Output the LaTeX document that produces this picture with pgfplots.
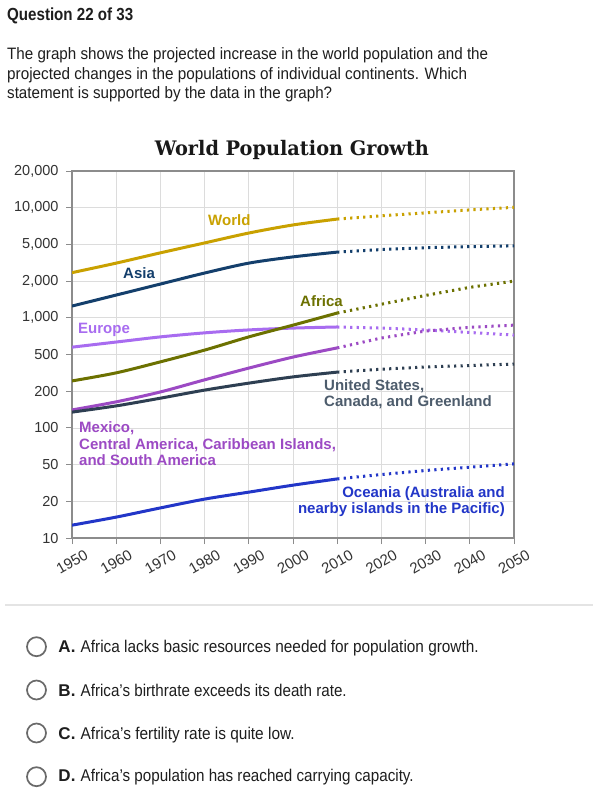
\documentclass[border=0pt]{standalone}
\usepackage{fontspec}
\setmainfont{Liberation Sans}
\newfontfamily\titlefont{DejaVu Serif}
\usepackage{graphicx}
\usepackage{pgfplots}
\pgfplotsset{compat=1.18}

\definecolor{cworld}{HTML}{C9A100}
\definecolor{casia}{HTML}{143F6C}
\definecolor{cafrica}{HTML}{6C7100}
\definecolor{ceurope}{HTML}{A86CF0}
\definecolor{clatam}{HTML}{9C4AC4}
\definecolor{cus}{HTML}{2E3F52}
\definecolor{cocean}{HTML}{2236C8}
\definecolor{cgrid}{HTML}{DCDCDC}
\definecolor{caxis}{HTML}{8C8C8C}
\definecolor{ctick}{HTML}{333333}
\definecolor{ctext}{HTML}{1E1E1E}
\definecolor{ccircle}{HTML}{6A6A6A}
\definecolor{csep}{HTML}{E4E4E4}

\newcommand{\fs}[1]{\fontsize{#1bp}{#1bp}\selectfont}
\newcommand{\fitw}[2]{\resizebox{#1bp}{\height}{#2}}

\pgfplotsset{
  proj/.style={line width=3bp, dash pattern=on 2.2bp off 4.3bp},
  hist/.style={line width=3bp, smooth},
}

\begin{document}
\begin{tikzpicture}[x=1bp,y=1bp]
\useasboundingbox (0,0) rectangle (593,-793);
\fill[white] (0,0) rectangle (593,-793);

% header
\node[anchor=base west, inner sep=0, text=ctext] at (7,-20.7) {\fitw{126}{\fs{17.5}\bfseries Question 22 of 33}};
\node[anchor=base west, inner sep=0, text=ctext] at (7,-59.5) {\fitw{481}{\fs{16.5}The graph shows the projected increase in the world population and the}};
\node[anchor=base west, inner sep=0, text=ctext] at (7,-79.3) {\fitw{460}{\fs{16.5}projected changes in the populations of individual continents. Which}};
\node[anchor=base west, inner sep=0, text=ctext] at (7,-99) {\fitw{325}{\fs{16.5}statement is supported by the data in the graph?}};

% chart title
\node[anchor=base, inner sep=0, text=black!90] at (292,-155) {\fitw{274}{\fs{20}\titlefont\bfseries World Population Growth}};

\begin{axis}[
  at={(72bp,-538bp)}, anchor=south west,
  scale only axis, width=442bp, height=367bp,
  xmin=1950, xmax=2050, ymin=0, ymax=10,
  xtick={1950,1960,...,2050},
  xticklabels={1950,1960,1970,1980,1990,2000,2010,2020,2030,2040,2050},
  ytick={0,1,...,10},
  yticklabels={10,20,50,100,200,500,{1,000},{2,000},{5,000},{10,000},{20,000}},
  xtick pos=left, ytick pos=left,
  tick align=outside, major tick length=6bp,
  tick style={draw=caxis, line width=1bp},
  grid=major, major grid style={draw=cgrid, line width=0.8bp},
  axis line style={draw=caxis, line width=1.6bp},
  ticklabel style={font=\fs{14.5}, text=ctick},
  yticklabel style={xshift=-4bp},
  xticklabel style={font=\fs{15}, anchor=center, yshift=-18bp, rotate=30},
]
% Europe
\addplot[ceurope, hist] coordinates {(1950,5.20)(1960,5.34)(1970,5.48)(1980,5.59)(1990,5.67)(2000,5.72)(2010,5.75)};
\addplot[ceurope, proj] coordinates {(2010,5.75)(2020,5.72)(2030,5.67)(2040,5.60)(2050,5.53)};
% Latin America
\addplot[clatam, hist] coordinates {(1950,3.49)(1960,3.71)(1970,3.98)(1980,4.31)(1990,4.63)(2000,4.93)(2010,5.18)};
\addplot[clatam, proj] coordinates {(2010,5.18)(2020,5.45)(2030,5.64)(2040,5.74)(2050,5.80)};
% US, Canada, Greenland
\addplot[cus, hist] coordinates {(1950,3.43)(1960,3.60)(1970,3.81)(1980,4.03)(1990,4.22)(2000,4.39)(2010,4.52)};
\addplot[cus, proj] coordinates {(2010,4.52)(2020,4.60)(2030,4.66)(2040,4.70)(2050,4.74)};
% Africa
\addplot[cafrica, hist] coordinates {(1950,4.28)(1960,4.50)(1970,4.80)(1980,5.12)(1990,5.48)(2000,5.80)(2010,6.13)};
\addplot[cafrica, proj] coordinates {(2010,6.13)(2020,6.37)(2030,6.61)(2040,6.83)(2050,7.00)};
% Asia
\addplot[casia, hist] coordinates {(1950,6.32)(1960,6.62)(1970,6.92)(1980,7.22)(1990,7.49)(2000,7.66)(2010,7.79)};
\addplot[casia, proj] coordinates {(2010,7.79)(2020,7.86)(2030,7.91)(2040,7.94)(2050,7.96)};
% World
\addplot[cworld, hist] coordinates {(1950,7.23)(1960,7.49)(1970,7.77)(1980,8.04)(1990,8.31)(2000,8.53)(2010,8.69)};
\addplot[cworld, proj] coordinates {(2010,8.69)(2020,8.78)(2030,8.86)(2040,8.94)(2050,9.01)};
% Oceania
\addplot[cocean, hist] coordinates {(1950,0.35)(1960,0.57)(1970,0.82)(1980,1.06)(1990,1.25)(2000,1.44)(2010,1.61)};
\addplot[cocean, proj] coordinates {(2010,1.61)(2020,1.73)(2030,1.84)(2040,1.93)(2050,2.02)};
\end{axis}

% series labels
\begin{scope}[every node/.style={inner sep=0, font=\fs{15}\bfseries}]
\node[anchor=base west, text=cworld] at (208,-225) {World};
\node[anchor=base west, text=casia] at (123,-278.3) {Asia};
\node[anchor=base west, text=cafrica] at (300,-306) {Africa};
\node[anchor=base west, text=ceurope] at (78,-333.3) {Europe};
\node[anchor=base west, text=clatam] at (79,-432.7) {Mexico,};
\node[anchor=base west, text=clatam] at (79,-449) {Central America, Caribbean Islands,};
\node[anchor=base west, text=clatam] at (79,-465.3) {and South America};
\node[anchor=base west, text=cus!85!white] at (324,-390) {United States,};
\node[anchor=base west, text=cus!85!white] at (324,-406.7) {Canada, and Greenland};
\node[anchor=base east, text=cocean] at (505,-497.7) {Oceania (Australia and};
\node[anchor=base east, text=cocean] at (505,-513.3) {nearby islands in the Pacific)};
\end{scope}

% separator
\draw[csep, line width=1.2bp] (5,-605) -- (593,-605);

% answer options
\foreach \yc/\yb/\L/\w/\T in {
  646.7/652.7/A./398/{Africa lacks basic resources needed for population growth.},
  690/696/B./266/{Africa's birthrate exceeds its death rate.},
  733/739.3/C./214/{Africa's fertility rate is quite low.},
  776.7/781.7/D./333/{Africa's population has reached carrying capacity.}}{
  \draw[ccircle, line width=1.7bp] (36.5,-\yc) circle (9.5);
  \node[anchor=base west, inner sep=0, text=ctext] at (58.3,-\yb) {\fs{17}\bfseries \L};
  \node[anchor=base west, inner sep=0, text=ctext] at (80.5,-\yb) {\fitw{\w}{\fs{17}\T}};
}
\end{tikzpicture}
\end{document}
